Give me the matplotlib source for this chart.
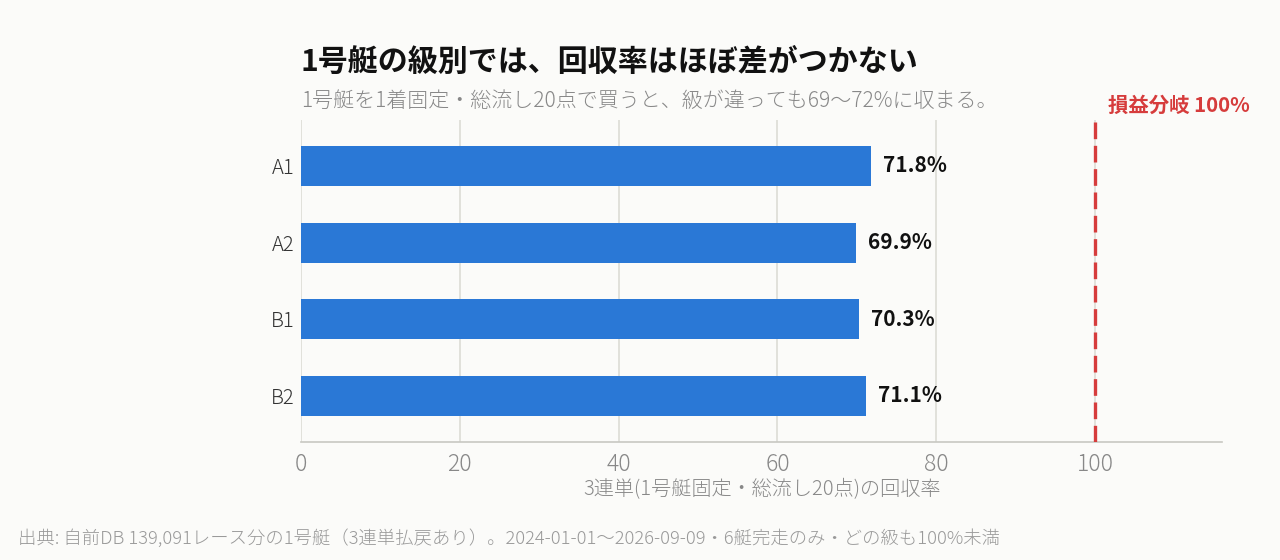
import matplotlib
matplotlib.use("Agg")
import matplotlib.pyplot as plt
import matplotlib.transforms as mtransforms

plt.rcParams['font.family'] = ['Noto Sans CJK JP', 'DejaVu Sans']

# データ
classes = ["A1", "A2", "B1", "B2"]
recovery = [71.8, 69.9, 70.3, 71.1]
breakeven = 100
xticks = [0, 20, 40, 60, 80, 100]

title = "1号艇の級別では、回収率はほぼ差がつかない"
subtitle = "1号艇を1着固定・総流し20点で買うと、級が違っても69〜72%に収まる。"
xlabel = "3連単(1号艇固定・総流し20点)の回収率"
source = "出典: 自前DB 139,091レース分の1号艇（3連単払戻あり）。2024-01-01〜2026-09-09・6艇完走のみ・どの級も100%未満"

bg = "#fbfbf9"
bar_color = "#2a78d6"
red = "#d63c3c"

fig = plt.figure(figsize=(12.8, 5.6), dpi=100, facecolor=bg)
ax = fig.add_axes([0.235, 0.2107, 0.72, 0.5753])
ax.set_facecolor(bg)

y = list(range(len(classes)))
ax.barh(y, recovery, height=0.52, color=bar_color, zorder=3)

# 値ラベル
for yi, v in zip(y, recovery):
    ax.text(v + 1.5, yi, f"{v:.1f}%", va="center", ha="left",
            fontsize=15, fontweight="bold", color="#111111", zorder=4)

# 損益分岐線
ax.axvline(breakeven, color=red, linestyle=(0, (5, 2)), linewidth=2.4, zorder=4)
trans = mtransforms.blended_transform_factory(ax.transData, ax.transAxes)
ax.text(breakeven + 1.6, 1.012, f"損益分岐 {breakeven}%", transform=trans,
        color=red, fontsize=14.7, fontweight="bold", ha="left", va="bottom")

ax.set_xlim(0, 116)
ax.set_ylim(len(classes) - 0.4, -0.6)
ax.set_yticks(y)
ax.set_yticklabels(classes, fontsize=14.5, color="#333333", fontweight="light")
ax.set_xticks(xticks)
ax.set_xticklabels([str(t) for t in xticks], fontsize=16.5, color="#888888",
                   fontweight="light")
ax.tick_params(axis="y", length=0, pad=4.5)
ax.tick_params(axis="x", length=0, pad=7)

ax.grid(axis="x", color="#dcdcd6", linewidth=1.2, zorder=0)
for s in ["top", "right", "left"]:
    ax.spines[s].set_visible(False)
ax.spines["bottom"].set_color("#c8c8c2")
ax.spines["bottom"].set_linewidth(1.2)

ax.set_xlabel(xlabel, fontsize=14.5, color="#888888", labelpad=2,
              fontweight="light")

fig.text(0.235, 0.862, title, fontsize=21.6, fontweight="bold", color="#111111", va="bottom")
fig.text(0.235, 0.80, subtitle, fontsize=15.1, color="#888888", va="bottom",
         fontweight="light")
fig.text(0.014, 0.038, source, fontsize=13.2, color="#999999", va="center",
         fontweight="light")

fig.savefig("out.png", dpi=100, facecolor=bg)
